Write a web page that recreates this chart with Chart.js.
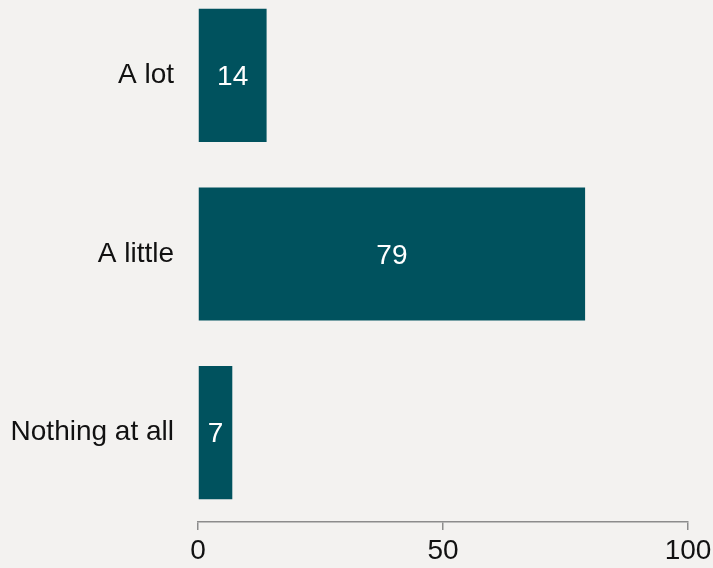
<!DOCTYPE html>
<html>
<head>
<meta charset="utf-8">
<script src="https://cdn.jsdelivr.net/npm/chart.js@4"></script>
<style>
  html, body { margin: 0; padding: 0; background: #f3f2f0; overflow: hidden; }
  #wrap { position: absolute; left: 0; top: -14px; width: 713px; height: 600px; }
</style>
</head>
<body>
<div id="wrap"><canvas id="chart"></canvas></div>
<script>
// Data
const categories = ['A lot', 'A little', 'Nothing at all'];
const shares = [14, 79, 7];
const tickValues = [0, 50, 100];

const barColor = '#00525e';
const axisGray = '#8c8c8c';
const fontFamily = '"Liberation Sans", Arial, sans-serif';
const fontSize = 28;

// white number inside each bar
const barLabels = {
  id: 'barLabels',
  afterDatasetsDraw(chart) {
    const ctx = chart.ctx;
    const meta = chart.getDatasetMeta(0);
    ctx.save();
    ctx.fillStyle = '#ffffff';
    ctx.font = fontSize + 'px ' + fontFamily;
    ctx.textAlign = 'center';
    ctx.textBaseline = 'middle';
    meta.data.forEach((bar, i) => {
      const cx = (bar.base + bar.x) / 2;
      ctx.fillText(String(shares[i]), cx, bar.y + 2);
    });
    ctx.restore();
  }
};

const ctx = document.getElementById('chart').getContext('2d');
new Chart(ctx, {
  type: 'bar',
  data: {
    labels: categories,
    datasets: [{
      data: shares,
      backgroundColor: barColor,
      borderWidth: 0,
      categoryPercentage: 1,
      barPercentage: 0.745
    }]
  },
  options: {
    indexAxis: 'y',
    responsive: true,
    maintainAspectRatio: false,
    animation: false,
    layout: { padding: { top: 0, right: 25, bottom: 0, left: 0 } },
    plugins: {
      legend: { display: false },
      tooltip: { enabled: false }
    },
    scales: {
      x: {
        min: 0,
        max: 100,
        afterBuildTicks(scale) {
          scale.ticks = tickValues.map(v => ({ value: v }));
        },
        afterFit(scale) {
          scale.height = 64;
          scale.paddingLeft = 0;
          scale.paddingRight = 0;
        },
        grid: {
          drawOnChartArea: false,
          drawTicks: true,
          tickLength: 8,
          color: axisGray,
          lineWidth: 1.5
        },
        border: { display: true, color: axisGray, width: 1.5 },
        ticks: {
          padding: 4,
          color: '#111111',
          font: { family: fontFamily, size: fontSize },
          maxRotation: 0
        }
      },
      y: {
        afterFit(scale) {
          scale.width = 198;
          scale.paddingTop = 0;
          scale.paddingBottom = 0;
        },
        grid: { display: false },
        border: { display: false },
        ticks: {
          padding: 16,
          color: '#111111',
          font: { family: fontFamily, size: fontSize }
        }
      }
    }
  },
  plugins: [barLabels]
});
</script>
</body>
</html>
